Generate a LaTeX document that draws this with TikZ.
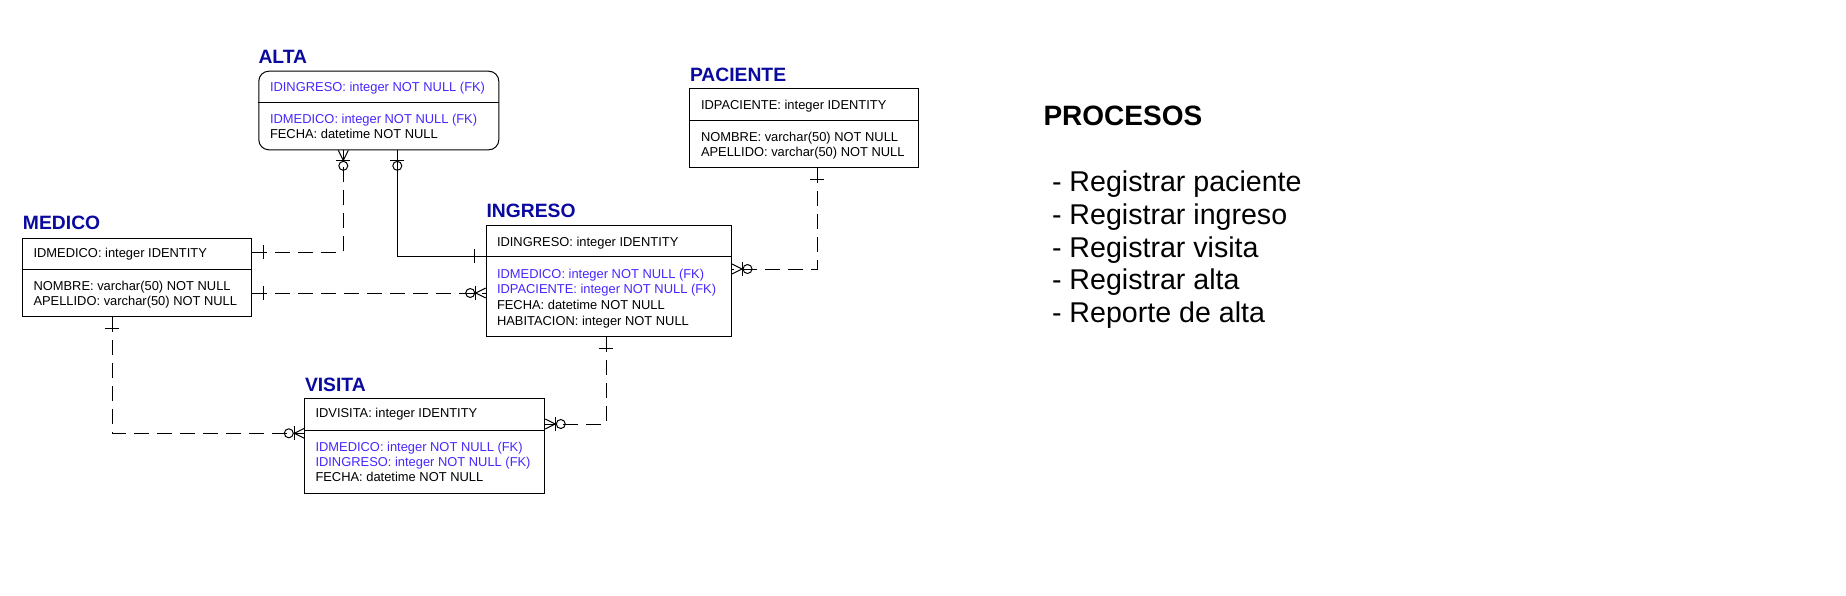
\documentclass[tikz,border=0pt]{standalone}
\usepackage{fontspec}
\setmainfont{Liberation Sans}
\definecolor{ttl}{RGB}{10,10,160}
\definecolor{fk}{RGB}{70,40,255}
\tikzset{
  zmany/.pic={\draw[solid] (0,-5) -- (10,0) -- (0,5); \draw[solid] (10,-7) -- (10,7); \draw[solid] (15.5,0) circle[radius=4.5pt];},
  zone/.pic={\draw[solid] (10,-7) -- (10,7); \draw[solid] (15.5,0) circle[radius=4.5pt];},
  one/.pic={\draw[solid] (11,-7) -- (11,7);}
}
\begin{document}
\begin{tikzpicture}[x=1pt,y=-1pt, line width=1pt,
  ent/.style={draw, line width=1pt, inner sep=0, anchor=north west},
  ttlnode/.style={anchor=base west, inner sep=0, text=ttl, font=\fontsize{19.3pt}{22pt}\selectfont\bfseries},
  row/.style={anchor=base west, inner sep=0, font=\fontsize{12.9pt}{15pt}\selectfont},
  fkrow/.style={row, text=fk},
  procitem/.style={anchor=base west, inner sep=0, font=\fontsize{28.6pt}{30pt}\selectfont},
  rel/.style={line width=1pt},
  nonid/.style={rel, dash pattern=on 15pt off 8pt},
  divider/.style={line width=1pt}
]
\fill[white] (0,0) rectangle (1846,595);
\useasboundingbox (0,0) rectangle (1846,595);

% ---------- ALTA ----------
\node[ent, rounded corners=10pt, minimum width=240pt, minimum height=78.6pt] (alta) at (258.3,70.7) {};
\draw[divider] ([yshift=-31.8pt]alta.north west) -- ([yshift=-31.8pt]alta.north east);
\node[ttlnode] (alta-t) at (258,63) {ALTA};
\node[fkrow] (alta-r1) at (269.5,91.3) {IDINGRESO: integer NOT NULL (FK)};
\node[fkrow] (alta-r2) at (269.5,123.6) {IDMEDICO: integer NOT NULL (FK)};
\node[row] (alta-r3) at (269.5,138.9) {FECHA: datetime NOT NULL};

% ---------- PACIENTE ----------
\node[ent, minimum width=228.7pt, minimum height=78.7pt] (paciente) at (689.3,88.3) {};
\draw[divider] ([yshift=-31.8pt]paciente.north west) -- ([yshift=-31.8pt]paciente.north east);
\node[ttlnode] (paciente-t) at (689.5,81) {PACIENTE};
\node[row] (paciente-r1) at (700.5,109.6) {IDPACIENTE: integer IDENTITY};
\node[row] (paciente-r2) at (700.5,141.3) {NOMBRE: varchar(50) NOT NULL};
\node[row] (paciente-r3) at (700.5,156.3) {APELLIDO: varchar(50) NOT NULL};

% ---------- MEDICO ----------
\node[ent, minimum width=229pt, minimum height=78.3pt] (medico) at (22.3,237.7) {};
\draw[divider] ([yshift=-31.8pt]medico.north west) -- ([yshift=-31.8pt]medico.north east);
\node[ttlnode] (medico-t) at (22.5,229.5) {MEDICO};
\node[row] (medico-r1) at (33,257.3) {IDMEDICO: integer IDENTITY};
\node[row] (medico-r2) at (33,290.4) {NOMBRE: varchar(50) NOT NULL};
\node[row] (medico-r3) at (33,305.4) {APELLIDO: varchar(50) NOT NULL};

% ---------- INGRESO ----------
\node[ent, minimum width=245.3pt, minimum height=111pt] (ingreso) at (485.7,225) {};
\draw[divider] ([yshift=-31.8pt]ingreso.north west) -- ([yshift=-31.8pt]ingreso.north east);
\node[ttlnode] (ingreso-t) at (486,217.5) {INGRESO};
\node[row] (ingreso-r1) at (496.5,246.3) {IDINGRESO: integer IDENTITY};
\node[fkrow] (ingreso-r2) at (496.5,278) {IDMEDICO: integer NOT NULL (FK)};
\node[fkrow] (ingreso-r3) at (496.5,293.8) {IDPACIENTE: integer NOT NULL (FK)};
\node[row] (ingreso-r4) at (496.5,309.8) {FECHA: datetime NOT NULL};
\node[row] (ingreso-r5) at (496.5,325.6) {HABITACION: integer NOT NULL};

% ---------- VISITA ----------
\node[ent, minimum width=240pt, minimum height=95pt] (visita) at (304.3,398.3) {};
\draw[divider] ([yshift=-31.8pt]visita.north west) -- ([yshift=-31.8pt]visita.north east);
\node[ttlnode] (visita-t) at (304.5,391) {VISITA};
\node[row] (visita-r1) at (315,417.9) {IDVISITA: integer IDENTITY};
\node[fkrow] (visita-r2) at (315,451.9) {IDMEDICO: integer NOT NULL (FK)};
\node[fkrow] (visita-r3) at (315,466.3) {IDINGRESO: integer NOT NULL (FK)};
\node[row] (visita-r4) at (315,481.9) {FECHA: datetime NOT NULL};

% ---------- PROCESOS ----------
\node[anchor=base west, inner sep=0, font=\fontsize{28pt}{30pt}\selectfont\bfseries] (proc) at (1043,125) {PROCESOS};
\node[procitem] (p1) at (1051.5,191.7) {- Registrar paciente};
\node[procitem] (p2) at (1051.5,224.4) {- Registrar ingreso};
\node[procitem] (p3) at (1051.5,257.2) {- Registrar visita};
\node[procitem] (p4) at (1051.5,289.9) {- Registrar alta};
\node[procitem] (p5) at (1051.5,322.7) {- Reporte de alta};

% ---------- Relationships ----------
% MEDICO -- ALTA
\coordinate (b1) at (343.3,252.3);
\draw[nonid] (medico.east |- b1) -- (b1) -- (alta.south -| b1);
\pic[rotate=-90] at (alta.south -| b1) {zmany};
\pic at (medico.east |- b1) {one};

% INGRESO -- ALTA (identifying)
\coordinate (b2) at (397.3,256.3);
\draw[rel] (alta.south -| b2) -- (b2) -- (ingreso.west |- b2);
\pic[rotate=-90] at (alta.south -| b2) {zone};
\pic[rotate=180] at (ingreso.west |- b2) {one};

% MEDICO -- INGRESO
\coordinate (b3) at (300,293);
\draw[nonid] (medico.east |- b3) -- (ingreso.west |- b3);
\pic at (medico.east |- b3) {one};
\pic[rotate=180] at (ingreso.west |- b3) {zmany};

% MEDICO -- VISITA
\coordinate (b4) at (112.3,433.3);
\draw[nonid] (medico.south -| b4) -- (b4) -- (visita.west |- b4);
\pic[rotate=-90] at (medico.south -| b4) {one};
\pic[rotate=180] at (visita.west |- b4) {zmany};

% INGRESO -- VISITA
\coordinate (b5) at (606,424);
\draw[nonid] (ingreso.south -| b5) -- (b5) -- (visita.east |- b5);
\pic[rotate=-90] at (ingreso.south -| b5) {one};
\pic at (visita.east |- b5) {zmany};

% PACIENTE -- INGRESO
\coordinate (b6) at (817.3,269);
\draw[nonid] (paciente.south -| b6) -- (b6) -- (ingreso.east |- b6);
\pic[rotate=-90] at (paciente.south -| b6) {one};
\pic at (ingreso.east |- b6) {zmany};
\end{tikzpicture}
\end{document}
